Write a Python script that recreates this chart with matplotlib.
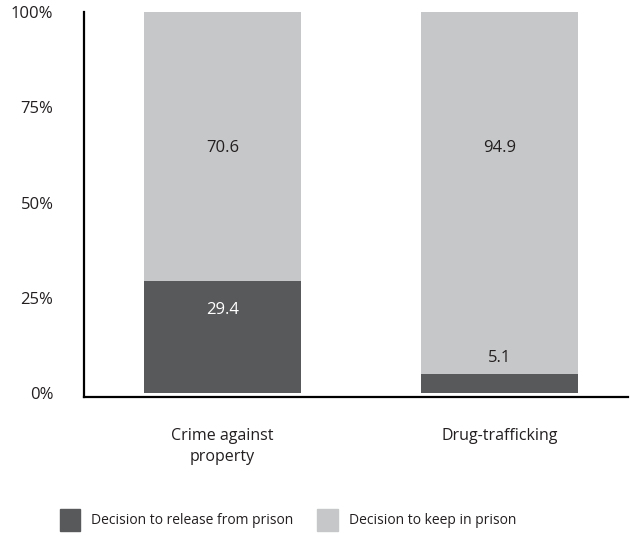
import matplotlib
matplotlib.use('Agg')
import matplotlib.pyplot as plt
from matplotlib.patches import Patch

plt.rcParams['font.family'] = ['Open Sans', 'DejaVu Sans']

categories = ['Crime against\nproperty', 'Drug-trafficking']
release = [29.4, 5.1]
keep = [70.6, 94.9]
series_names = ['Decision to release from prison', 'Decision to keep in prison']
ytick_vals = [0, 25, 50, 75, 100]
ytick_labels = ['0%', '25%', '50%', '75%', '100%']

dark = '#58595b'
light = '#c6c7c8'
txt = '#231f20'

fig = plt.figure(figsize=(6.3, 5.37), dpi=100)
ax = fig.add_axes([84/630, 1 - 397/537, 544/630, 385/537])

x = range(len(categories))
w = 0.567
ax.bar(x, release, width=w, color=dark)
ax.bar(x, keep, width=w, bottom=release, color=light)

# value labels (placement as in the original)
keep_label_y = [64.2, 64.2]
release_label_y = [21.8, 9.2]
release_colors = ['white', txt]
for i in x:
    ax.text(i, keep_label_y[i], f'{keep[i]:.1f}', ha='center', va='center',
            fontsize=12, color=txt)
    ax.text(i, release_label_y[i], f'{release[i]:.1f}', ha='center', va='center',
            fontsize=12, color=release_colors[i])

ax.set_xlim(-0.5, 1.464)
ax.set_ylim(-1, 100)
ax.set_yticks(ytick_vals)
ax.set_yticklabels(ytick_labels, fontsize=12, color=txt)
ax.set_xticks(list(x))
ax.set_xticklabels(categories, fontsize=11.5, color=txt, linespacing=1.45)
ax.tick_params(axis='y', length=0, pad=22)
ax.tick_params(axis='x', length=0, pad=22)
for s in ['top', 'right']:
    ax.spines[s].set_visible(False)
for s in ['left', 'bottom']:
    ax.spines[s].set_linewidth(1.6)
    ax.spines[s].set_color('black')

handles = [Patch(color=dark), Patch(color=light)]
fig.legend(handles, series_names, loc='center left', bbox_to_anchor=(47/630, 1 - 520/537),
           ncol=2, frameon=False, fontsize=10, handlelength=1.5, handleheight=2.1,
           columnspacing=1.75, handletextpad=0.75, labelcolor=txt)

fig.savefig('out.png', dpi=100)
